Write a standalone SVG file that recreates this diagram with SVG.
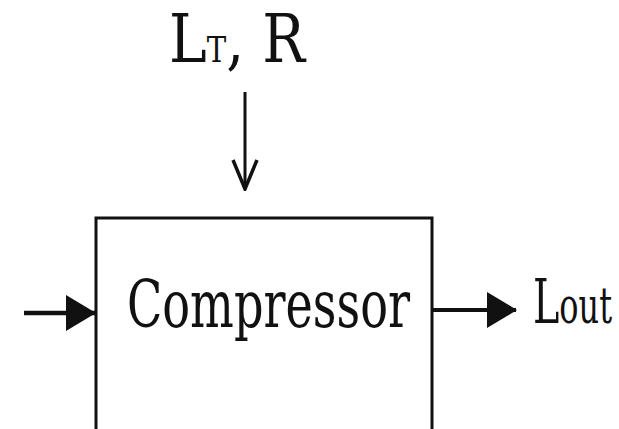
<svg xmlns="http://www.w3.org/2000/svg" width="619" height="429" viewBox="0 0 619 429">
  <style>
    .box { fill: #fff; stroke: #111; stroke-width: 3; }
    .conn { stroke: #111; fill: none; }
    .lbl { font-family: "DejaVu Serif Condensed", "DejaVu Serif", serif; fill: #111; }
  </style>
  <defs>
    <marker id="tri" markerUnits="userSpaceOnUse" viewBox="0 0 30 36" refX="29" refY="18" markerWidth="30" markerHeight="36" orient="auto">
      <path d="M0,0 L30,18 L0,36 Z" fill="#111"/>
    </marker>
    <marker id="vee" markerUnits="userSpaceOnUse" viewBox="-3 -16 34 32" refX="29" refY="0" markerWidth="34" markerHeight="32" orient="auto">
      <path d="M0,-12 L29,0 L0,12" fill="none" stroke="#111" stroke-width="3.5" stroke-linejoin="miter"/>
    </marker>
  </defs>
  <rect width="619" height="429" fill="#fff"/>
  <g id="connectors">
    <line class="conn" x1="24" y1="313" x2="95" y2="313" stroke-width="4.5" marker-end="url(#tri)"/>
    <line class="conn" x1="433" y1="310" x2="516" y2="310" stroke-width="4" marker-end="url(#tri)"/>
    <line class="conn" x1="245" y1="92" x2="245" y2="189" stroke-width="3" marker-end="url(#vee)"/>
  </g>
  <g id="compressor">
    <rect class="box" x="96" y="218" width="336" height="214"/>
    <text class="lbl" x="127" y="327" font-size="66" textLength="283" lengthAdjust="spacingAndGlyphs">Compressor</text>
  </g>
  <g id="input-label">
    <text class="lbl" x="169" y="62" font-size="68" textLength="136" lengthAdjust="spacingAndGlyphs">L<tspan font-size="35">T</tspan>, R</text>
  </g>
  <g id="output-label">
    <text class="lbl" x="533" y="323" font-size="62" textLength="79" lengthAdjust="spacingAndGlyphs">L<tspan font-size="50">out</tspan></text>
  </g>
</svg>
